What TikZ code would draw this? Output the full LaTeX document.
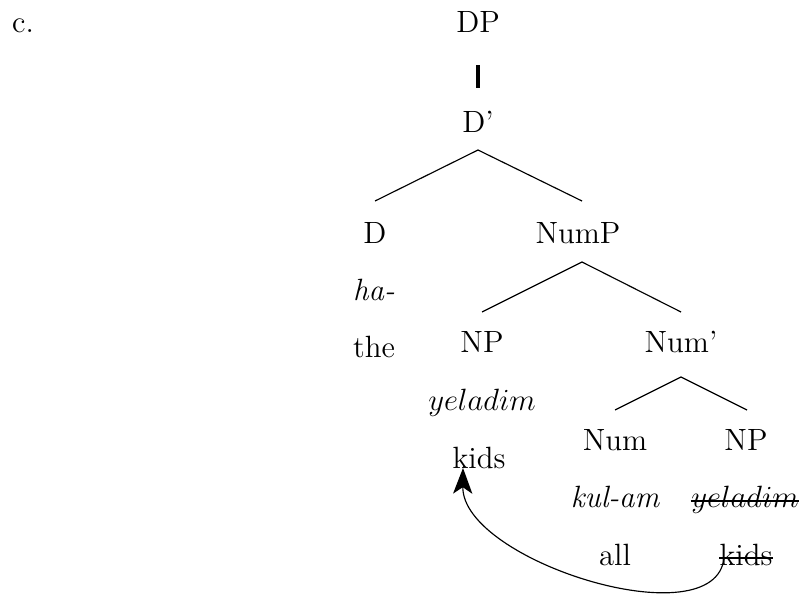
\documentclass[tikz,border=0pt]{standalone}
\usetikzlibrary{arrows.meta,calc}
\begin{document}
\begin{tikzpicture}[x=0.39pt,y=-0.39pt,
  lab/.style={inner sep=0pt,anchor=base,font=\fontsize{12}{14}\selectfont},
  branch/.style={line width=0.45pt},
  strike/.style={line width=0.9pt}]
\useasboundingbox (0,0) rectangle (801,597);
\node[lab] (c) at (23,32) {c.};
\node[lab] (DP) at (478,32) {DP};
\node[lab] (Dbar) at (478,132) {D'};
\node[lab] (D) at (375,243) {D};
\node[lab] (NumP) at (578,243) {NumP};
\node[lab] (ha) at (374,300) {\itshape ha-};
\node[lab] (the) at (374,357) {the};
\node[lab] (NP) at (482,352) {NP};
\node[lab] (Numbar) at (681,352) {Num'};
\node[lab] (yel) at (482,410) {$yeladim$};
\node[lab] (Num) at (615,450) {Num};
\node[lab] (NPb) at (746,450) {NP};
\node[lab] (kids) at (479,468) {kids};
\node[lab] (kul) at (615,507) {\itshape kul-am};
\node[lab] (yelb) at (745,507) {$yeladim$};
\node[lab] (all) at (615,565) {all};
\node[lab] (kidsb) at (746,565) {kids};
% DP - D'
\draw[line width=1.3pt] ($(DP.base)+(0,33)$) -- ($(Dbar.base)+(0,-44)$);
% branches
\draw[branch] ($(D.base)+(0,-42)$) -- ($(Dbar.base)+(0,18)$) -- ($(NumP.base)+(4,-42)$);
\draw[branch] ($(NP.base)+(0,-40)$) -- ($(NumP.base)+(4,19)$) -- ($(Numbar.base)+(0,-40)$);
\draw[branch] ($(Num.base)+(0,-40)$) -- ($(Numbar.base)+(0,25)$) -- ($(NPb.base)+(1,-40)$);
% strikes
\draw[strike] ([yshift=2.4pt]yelb.base west) -- ([yshift=2.4pt]yelb.base east);
\draw[strike] ([yshift=2.8pt]kidsb.base west) -- ([yshift=2.8pt]kidsb.base east);
% movement arrow
\draw[branch,-{Stealth[length=10pt,width=7.5pt,inset=2.5pt]}]
  ($(kidsb.base west)+(5,-7)$) .. controls (715,640) and (462,561) .. ($(kids.base)+(-16,0)$);
\end{tikzpicture}
\end{document}
